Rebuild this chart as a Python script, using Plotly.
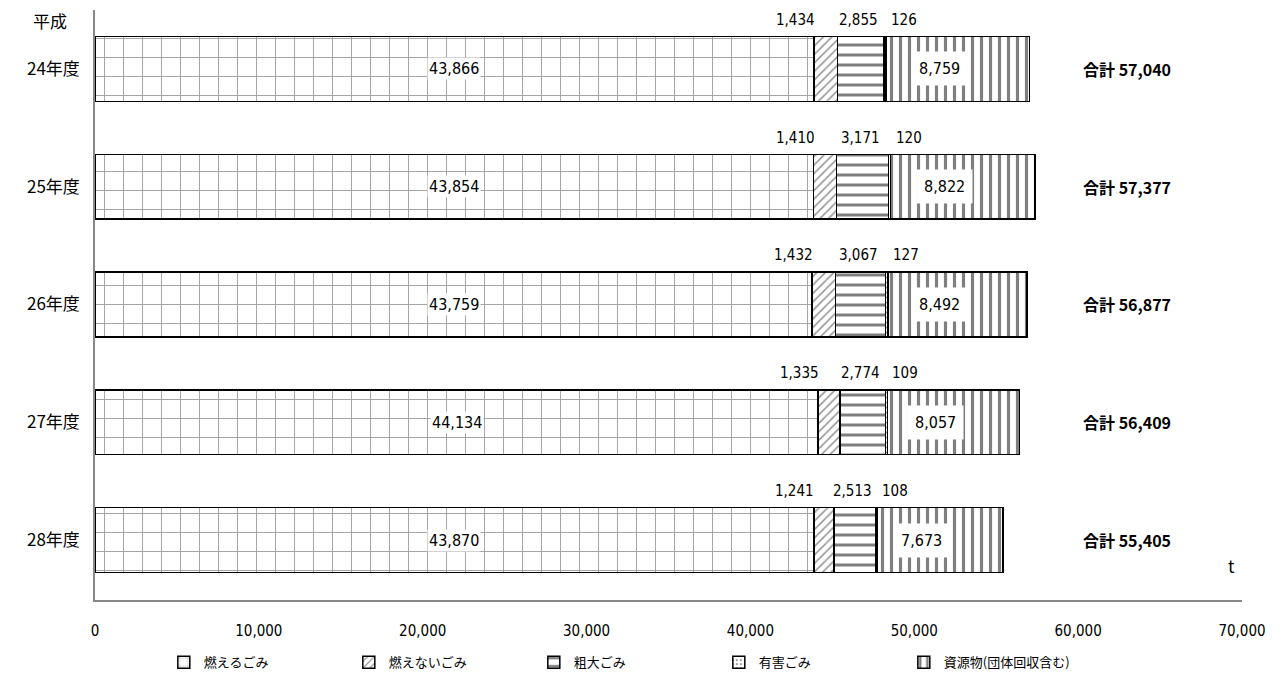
import plotly.graph_objects as go

years = ["24年度", "25年度", "26年度", "27年度", "28年度"]
moeru = [43866, 43854, 43759, 44134, 43870]
moenai = [1434, 1410, 1432, 1335, 1241]
sodai = [2855, 3171, 3067, 2774, 2513]
yugai = [126, 120, 127, 109, 108]
shigen = [8759, 8822, 8492, 8057, 7673]
totals = [57040, 57377, 56877, 56409, 55405]
series_names = ["燃えるごみ", "燃えないごみ", "粗大ごみ", "有害ごみ", "資源物(団体回収含む)"]
xticks = [0, 10000, 20000, 30000, 40000, 50000, 60000, 70000]

NUMFONT = "DejaVu Sans Condensed, Liberation Sans Narrow, Noto Sans CJK JP"
JPFONT = "Noto Sans CJK JP, Noto Sans"

series = [moeru, moenai, sodai, yugai, shigen]
patterns = [
    dict(shape="+", size=19, solidity=0.09, fgcolor="#333333", bgcolor="white"),
    dict(shape="/", size=6, solidity=0.25, fgcolor="#222222", bgcolor="white"),
    dict(shape="-", size=10, solidity=0.3, fgcolor="black", bgcolor="white"),
    dict(shape=".", size=5, solidity=0.2, fgcolor="black", bgcolor="white"),
    dict(shape="|", size=9, solidity=0.35, fgcolor="black", bgcolor="white"),
]

fig = go.Figure()
for name, vals, pat in zip(series_names, series, patterns):
    fig.add_trace(go.Bar(
        y=years, x=vals, name=name, orientation="h",
        marker=dict(color="white", pattern=pat, line=dict(color="black", width=1.5)),
    ))

ann = []
for i, y in enumerate(years):
    ann.append(dict(x=moeru[i] / 2, y=y, text=f"{moeru[i]:,}", showarrow=False,
                    bgcolor="white", font=dict(size=16, family=NUMFONT, color="black")))
    s0 = moeru[i] + moenai[i] + sodai[i] + yugai[i]
    ann.append(dict(x=s0 + shigen[i] / 2, y=y, text=f"{shigen[i]:,}", showarrow=False,
                    xshift=-18, bgcolor="white", borderpad=7,
                    font=dict(size=16, family=NUMFONT, color="black")))
    c1 = moeru[i] + moenai[i] / 2
    ann.append(dict(x=c1, y=y, text=f"{moenai[i]:,}", showarrow=False, yshift=49, xshift=-30,
                    font=dict(size=15, family=NUMFONT, color="black")))
    c2 = moeru[i] + moenai[i] + sodai[i] / 2
    ann.append(dict(x=c2, y=y, text=f"{sodai[i]:,}", showarrow=False, yshift=49, xshift=-2,
                    font=dict(size=15, family=NUMFONT, color="black")))
    c3 = moeru[i] + moenai[i] + sodai[i] + yugai[i]
    ann.append(dict(x=c3, y=y, text=f"{yugai[i]:,}", showarrow=False, yshift=49, xshift=18,
                    font=dict(size=15, family=NUMFONT, color="black")))
    ann.append(dict(x=63000, y=y, text=f"<b>合計 {totals[i]:,}</b>", showarrow=False,
                    font=dict(size=16, family=JPFONT, color="black")))

ann.append(dict(xref="paper", yref="paper", x=-0.056, y=0.983, yanchor="middle",
                text="平成", showarrow=False, font=dict(size=17, family=JPFONT, color="black")))
ann.append(dict(xref="paper", yref="paper", x=0.996, y=0.034, text="t", showarrow=False,
                font=dict(size=17, family=JPFONT, color="black")))

fig.update_layout(
    barmode="stack",
    bargap=0.45,
    width=1284, height=694,
    margin=dict(l=95, r=42, t=10, b=94),
    plot_bgcolor="white", paper_bgcolor="white",
    annotations=ann,
    showlegend=True,
    legend=dict(orientation="h", x=0.06, xanchor="left", y=-0.08, yanchor="top",
                font=dict(size=13, family=JPFONT, color="black"),
                entrywidth=140, entrywidthmode="pixels",
                itemwidth=30, traceorder="normal"),
    xaxis=dict(range=[0, 70000], tickvals=xticks, tickformat=",", showgrid=False,
               showline=True, linecolor="#888888", linewidth=1.5, zeroline=False,
               ticklabelstandoff=16,
               tickfont=dict(size=15, family=NUMFONT, color="black")),
    yaxis=dict(categoryorder="array", categoryarray=years, autorange="reversed",
               showline=True, linecolor="#888888", linewidth=1.5, showgrid=False,
               ticks="", ticklabelstandoff=10,
               tickfont=dict(size=17, family=JPFONT, color="black")),
)

fig.write_html("out.html")
